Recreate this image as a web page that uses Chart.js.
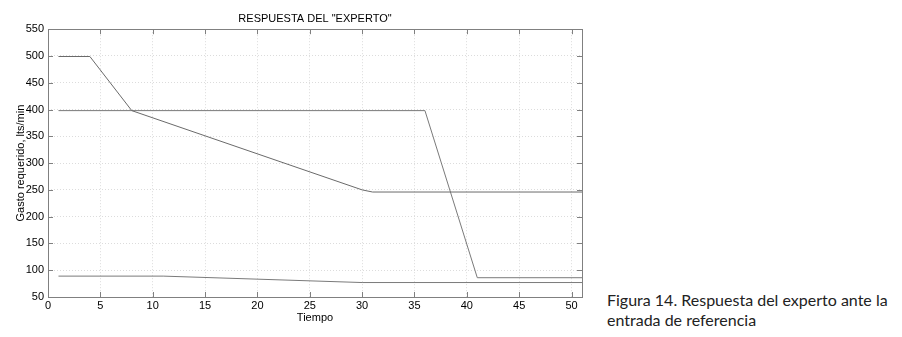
<!DOCTYPE html>
<html>
<head>
<meta charset="utf-8">
<script src="https://cdn.jsdelivr.net/npm/chart.js@4"></script>
<style>
  body { margin: 0; background: #fff; width: 902px; height: 337px; overflow: hidden; }
  #caja { position: absolute; left: 0; top: 0; width: 600px; height: 337px; }
  #pie { position: absolute; left: 607px; top: 290px; font-family: Lato, "Open Sans", sans-serif;
         font-size: 16px; line-height: 20px; color: #222; }
</style>
</head>
<body>
<div id="caja"><canvas id="graficoExperto"></canvas></div>
<div id="pie">Figura 14. Respuesta del experto ante la<br>entrada de referencia</div>
<script>
// datos
const tiempo1 = [1, 4, 8, 30, 31, 51];
const gasto1 = [499, 499, 398, 250, 246, 246];
const tiempo2 = [1, 36, 41, 51];
const gasto2 = [398, 398, 86, 86];
const tiempo3 = [1, 11, 30, 51];
const gasto3 = [89, 89, 77, 77];
const ticksX = [0, 5, 10, 15, 20, 25, 30, 35, 40, 45, 50];
const ticksY = [50, 100, 150, 200, 250, 300, 350, 400, 450, 500, 550];

const puntos = (xs, ys) => xs.map((x, i) => ({ x: x, y: ys[i] }));

const serie = (xs, ys, col) => ({
    data: puntos(xs, ys),
    borderColor: col,
    borderWidth: 1,
    pointRadius: 0,
    fill: false,
    tension: 0,
});

// caja del grafico con marcas hacia adentro (estilo matlab)
const cajaMarcas = {
    id: "cajaMarcas",
    afterDatasetsDraw(chart) {
        const { ctx, chartArea: a, scales } = chart;
        ctx.save();
        ctx.strokeStyle = "#808080";
        ctx.lineWidth = 1;
        ctx.strokeRect(Math.round(a.left) + 0.5, Math.round(a.top) + 0.5,
            Math.round(a.right - a.left), Math.round(a.bottom - a.top));
        ctx.beginPath();
        ticksX.forEach((v) => {
            const px = Math.round(scales.x.getPixelForValue(v)) + 0.5;
            ctx.moveTo(px, a.bottom); ctx.lineTo(px, a.bottom - 5);
            ctx.moveTo(px, a.top); ctx.lineTo(px, a.top + 5);
        });
        ticksY.forEach((v) => {
            const py = Math.round(scales.y.getPixelForValue(v)) + 0.5;
            ctx.moveTo(a.left, py); ctx.lineTo(a.left + 5, py);
            ctx.moveTo(a.right, py); ctx.lineTo(a.right - 5, py);
        });
        ctx.stroke();
        ctx.restore();
    },
};

const fuente = { family: "'Liberation Sans', Arial, sans-serif", size: 11 };

const configExperto = {
    type: "line",
    data: {
        datasets: [
            serie(tiempo1, gasto1, "#6a6a6a"),
            serie(tiempo2, gasto2, "#7a7a7a"),
            serie(tiempo3, gasto3, "#7a7a7a"),
        ],
    },
    options: {
        responsive: true,
        maintainAspectRatio: false,
        animation: false,
        layout: { padding: { left: 0, right: 18, top: 0, bottom: 0 } },
        plugins: {
            legend: { display: false },
            tooltip: { enabled: false },
            title: {
                display: true,
                fullSize: false,
                text: 'RESPUESTA DEL "EXPERTO"',
                color: "#000",
                font: { family: fuente.family, size: 11, weight: "normal" },
                padding: { top: 12, bottom: 4 },
            },
        },
        scales: {
            x: {
                type: "linear",
                min: 0,
                max: 51,
                afterFit: (s) => { s.height = 40; },
                afterBuildTicks: (s) => { s.ticks = ticksX.map((v) => ({ value: v })); },
                ticks: { color: "#000", font: fuente, padding: 2, maxRotation: 0, autoSkip: false },
                grid: { color: "#dcdcdc", drawTicks: false },
                border: { display: false, dash: [1, 2] },
                title: {
                    display: true,
                    text: "Tiempo",
                    color: "#000",
                    font: fuente,
                    padding: { top: 0, bottom: 12 },
                },
            },
            y: {
                type: "linear",
                min: 50,
                max: 550,
                afterFit: (s) => { s.width = 48; },
                afterBuildTicks: (s) => { s.ticks = ticksY.map((v) => ({ value: v })); },
                ticks: { color: "#000", font: fuente, padding: 4, autoSkip: false },
                grid: { color: "#dcdcdc", drawTicks: false },
                border: { display: false, dash: [1, 2] },
                title: {
                    display: true,
                    text: "Gasto requerido, lts/min",
                    color: "#000",
                    font: fuente,
                    padding: { top: 14, bottom: 0 },
                },
            },
        },
    },
    plugins: [cajaMarcas],
};

const grafico = new Chart(document.getElementById("graficoExperto"), configExperto);
</script>
</body>
</html>
